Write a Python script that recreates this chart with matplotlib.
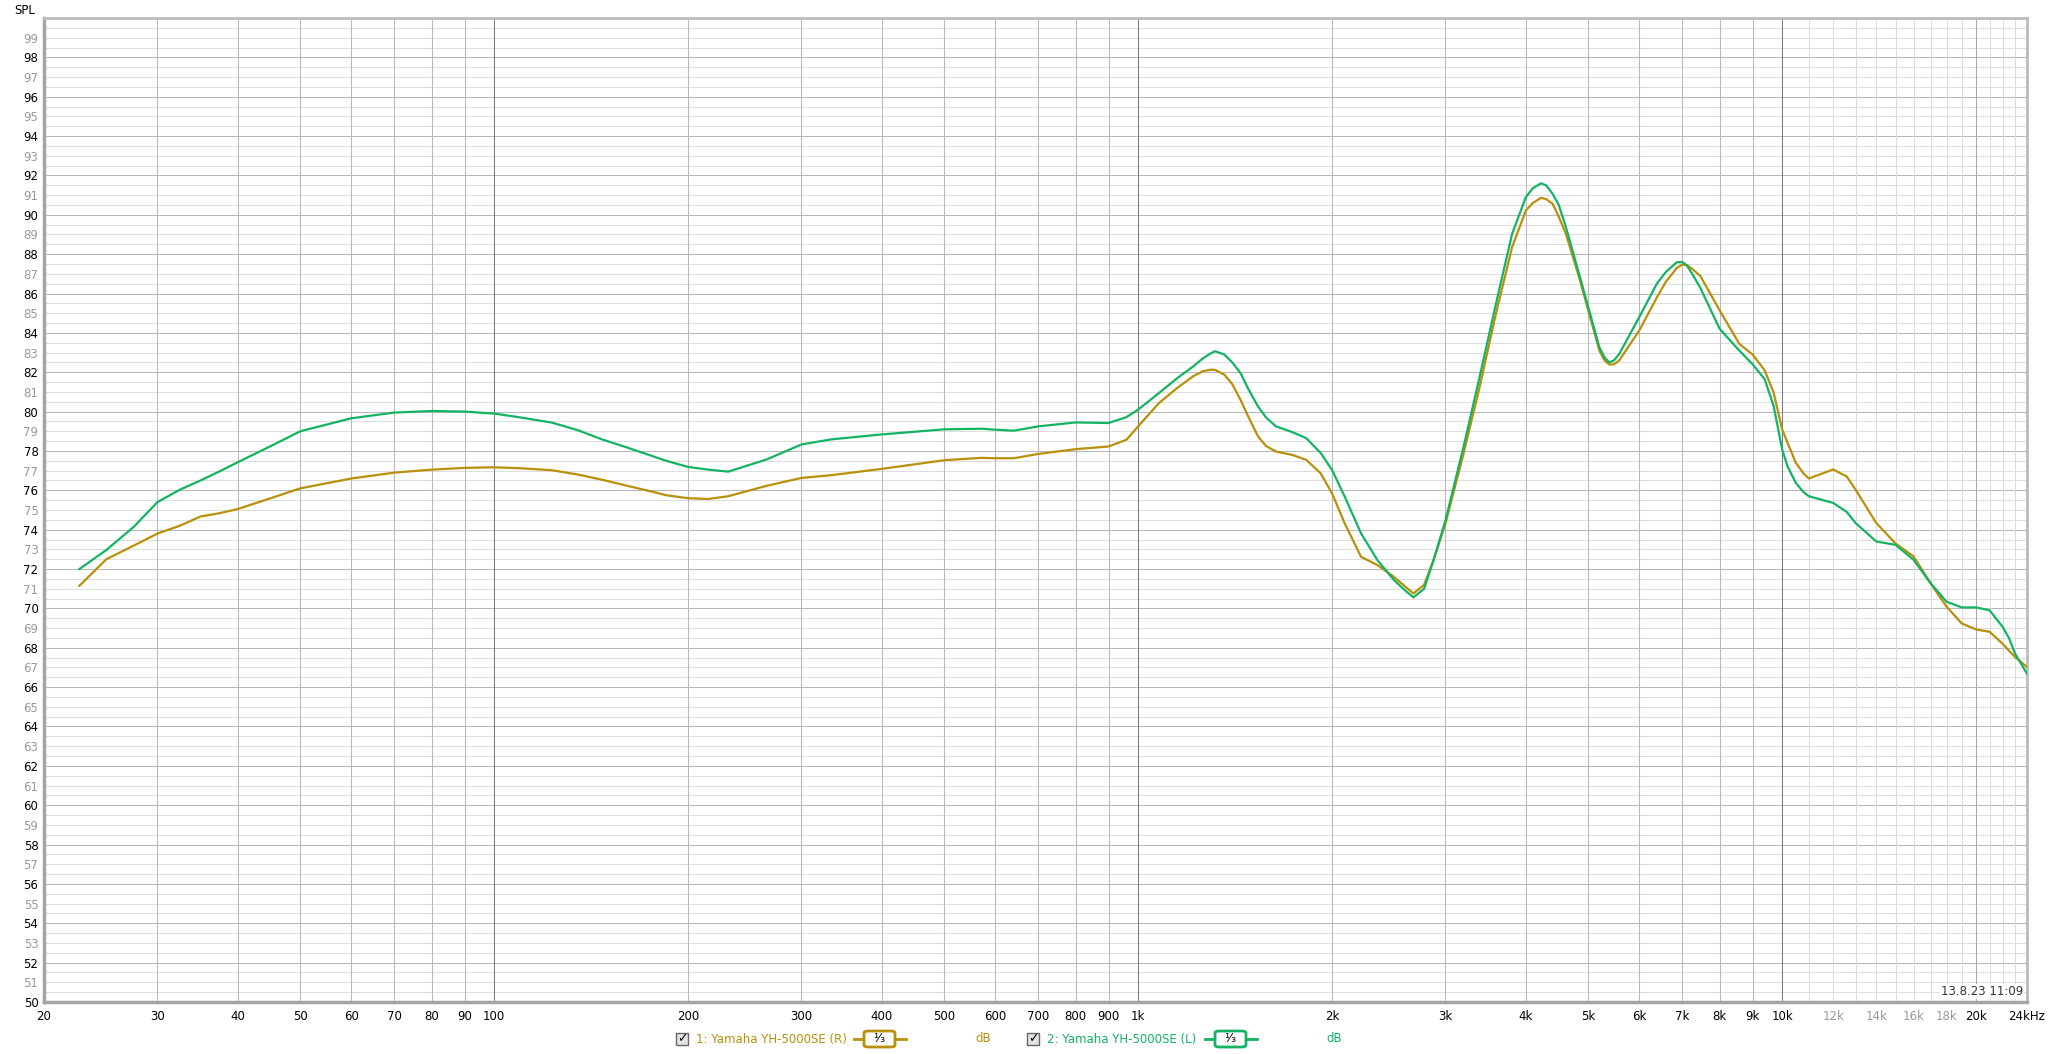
import matplotlib
matplotlib.use("Agg")
import matplotlib.pyplot as plt
import matplotlib.ticker as mticker
from matplotlib.patches import Rectangle, FancyBboxPatch
from matplotlib.lines import Line2D

# ── data (Hz, dB SPL) ────────────────────────────────────────────────────────
freq = [22.7, 25, 27.6, 30, 32.5, 35, 37.5, 40, 45, 50, 60, 70, 80, 90, 100,
        110, 123, 135, 147, 160, 175, 185, 200, 215, 231, 265, 300, 334, 400,
        500, 571, 600, 641, 700, 800, 900, 959, 1000, 1077, 1150, 1218, 1260,
        1295, 1316, 1361, 1400, 1442, 1480, 1535, 1580, 1637, 1735, 1824, 1920,
        2000, 2093, 2219, 2353, 2496, 2600, 2676, 2780, 2873, 3000, 3200, 3390,
        3594, 3808, 4000, 4100, 4223, 4300, 4401, 4500, 4616, 4838, 5000, 5202,
        5300, 5390, 5480, 5586, 6000, 6389, 6600, 6863, 7000, 7113, 7250, 7460,
        8000, 8580, 9000, 9393, 9700, 10000, 10200, 10500, 10800, 11000, 12000,
        12600, 13000, 14000, 15000, 16000, 17000, 18000, 19000, 20000, 21000,
        22000, 22500, 23000, 24000]

spl_right = [71.15, 72.5, 73.2, 73.8, 74.2, 74.67, 74.84, 75.05, 75.6, 76.1,
             76.6, 76.9, 77.05, 77.14, 77.17, 77.12, 77.02, 76.8, 76.54, 76.25,
             75.95, 75.75, 75.6, 75.56, 75.7, 76.23, 76.63, 76.77, 77.09, 77.53,
             77.65, 77.63, 77.63, 77.85, 78.09, 78.23, 78.57, 79.25, 80.43, 81.2,
             81.8, 82.05, 82.13, 82.12, 81.88, 81.4, 80.6, 79.8, 78.74, 78.25,
             77.97, 77.8, 77.55, 76.87, 75.85, 74.32, 72.62, 72.2, 71.6, 71.1,
             70.76, 71.2, 72.42, 74.3, 77.85, 81.24, 84.97, 88.36, 90.22, 90.6,
             90.86, 90.8, 90.56, 89.9, 89.03, 86.83, 85.14, 83.1, 82.6, 82.39,
             82.4, 82.6, 84.12, 85.8, 86.6, 87.3, 87.47, 87.45, 87.25, 86.9,
             85.14, 83.44, 82.9, 82.1, 80.97, 79.1, 78.4, 77.4, 76.85, 76.6,
             77.06, 76.7, 76.04, 74.34, 73.3, 72.64, 71.28, 70.09, 69.24, 68.93,
             68.81, 68.2, 67.85, 67.53, 67.02]

spl_left = [72.0, 72.97, 74.16, 75.4, 76.03, 76.5, 76.97, 77.43, 78.25, 79.0,
            79.66, 79.95, 80.03, 80.0, 79.9, 79.7, 79.44, 79.05, 78.59, 78.2,
            77.77, 77.5, 77.19, 77.05, 76.95, 77.57, 78.33, 78.59, 78.84, 79.1,
            79.13, 79.08, 79.03, 79.25, 79.45, 79.42, 79.72, 80.1, 80.94, 81.7,
            82.3, 82.7, 82.95, 83.07, 82.9, 82.5, 81.96, 81.2, 80.26, 79.7,
            79.25, 78.96, 78.65, 77.9, 77.04, 75.68, 73.81, 72.45, 71.44, 70.9,
            70.56, 71.0, 72.42, 74.46, 78.19, 81.75, 85.47, 89.03, 90.9, 91.35,
            91.6, 91.5, 91.07, 90.5, 89.37, 87.0, 85.3, 83.27, 82.75, 82.5,
            82.6, 82.93, 84.8, 86.5, 87.1, 87.59, 87.6, 87.42, 87.0, 86.3,
            84.2, 83.1, 82.4, 81.65, 80.29, 78.08, 77.2, 76.38, 75.9, 75.7,
            75.36, 74.9, 74.34, 73.4, 73.23, 72.47, 71.28, 70.34, 70.05, 70.05,
            69.9, 69.06, 68.5, 67.7, 66.68]

series_names = ["1: Yamaha YH-5000SE (R)", "2: Yamaha YH-5000SE (L)"]
series_colors = ["#B8900A", "#12B464"]

x_ticks = [20, 30, 40, 50, 60, 70, 80, 90, 100, 200, 300, 400, 500, 600, 700,
           800, 900, 1000, 2000, 3000, 4000, 5000, 6000, 7000, 8000, 9000,
           10000, 12000, 14000, 16000, 18000, 20000, 24000]
x_labels = ["20", "30", "40", "50", "60", "70", "80", "90", "100", "200", "300",
            "400", "500", "600", "700", "800", "900", "1k", "2k", "3k", "4k",
            "5k", "6k", "7k", "8k", "9k", "10k", "12k", "14k", "16k", "18k",
            "20k", "24kHz"]
grey_x_labels = {"12k", "14k", "16k", "18k"}

W, H = 2048, 1054
fig = plt.figure(figsize=(W / 100, H / 100), dpi=100, facecolor="white")
L, R, T, B = 44, 2027, 18, 1002
ax = fig.add_axes([L / W, 1 - B / H, (R - L) / W, (B - T) / H])

ax.set_xscale("log")
ax.set_xlim(20, 24000)
ax.set_ylim(50, 100)

GRID_LW = 0.75
# horizontal grid every 0.5 dB, even dB darker
for k in range(101, 200):
    c = "#B8B8B8" if k % 4 == 0 else "#DEDEDE"
    ax.axhline(k / 2, color=c, lw=GRID_LW, zorder=0)

# vertical grid
for f in list(range(11000, 20000, 1000)) + [21000, 22000, 23000]:
    ax.axvline(f, color="#DCDCDC", lw=GRID_LW, zorder=0)
for dec in (10, 100, 1000):
    for m in range(2, 10):
        if dec * m >= 20:
            ax.axvline(dec * m, color="#B8B8B8", lw=GRID_LW, zorder=0)
ax.axvline(20000, color="#A8A8A8", lw=GRID_LW, zorder=0)
for f in (100, 1000, 10000):
    ax.axvline(f, color="#7A7A7A", lw=GRID_LW, zorder=0.5)

for spl, c in zip([spl_right, spl_left], series_colors):
    ax.plot(freq, spl, color=c, lw=1.6, solid_joinstyle="round", zorder=3)

# ticks
ax.set_xticks(x_ticks)
ax.set_xticklabels(x_labels)
ax.xaxis.set_minor_locator(mticker.NullLocator())
ax.tick_params(axis="x", length=0, pad=6, labelsize=8.5)
for lbl in ax.get_xticklabels():
    lbl.set_color("#999999" if lbl.get_text() in grey_x_labels else "black")

y_ticks = list(range(50, 100))
ax.set_yticks(y_ticks)
ax.set_yticklabels([str(v) for v in y_ticks])
ax.yaxis.set_minor_locator(mticker.NullLocator())
ax.tick_params(axis="y", length=0, pad=4, labelsize=8.5)
for lbl, v in zip(ax.get_yticklabels(), y_ticks):
    lbl.set_color("black" if v % 2 == 0 else "#999999")

# sunken frame
for side in ("left", "bottom"):
    ax.spines[side].set_color("#A4A4A4")
    ax.spines[side].set_linewidth(2.5)
for side in ("top", "right"):
    ax.spines[side].set_color("#BBBBBB")
    ax.spines[side].set_linewidth(2)

ax.text(0.998, 0.004, "13.8.23 11:09", transform=ax.transAxes, ha="right",
        va="bottom", fontsize=8.5, color="#333333", zorder=5,
        bbox=dict(facecolor="white", edgecolor="none", pad=1))

fig.text(14 / W, 1 - 10 / H, "SPL", fontsize=8.5, va="center", ha="left")


# ── legend row under the chart ───────────────────────────────────────────────
def px(x, y):
    return x / W, 1 - y / H


ly = 1039
for x0, name, c in zip([682, 1033], series_names, series_colors):
    bx, by = px(x0 - 6, ly + 6)
    fig.patches.append(Rectangle((bx, by), 12 / W, 12 / H, transform=fig.transFigure,
                                 facecolor="#E4E4E4", edgecolor="#666666", lw=1))
    fig.text(*px(x0, ly), "✓", fontsize=9, ha="center", va="center",
             color="black", fontweight="bold")
    fig.text(*px(x0 + 14, ly), name, fontsize=8.5, ha="left", va="center", color=c)
    tx = x0 + 14 + 156
    x1, y1 = px(tx + 2, ly)
    x2, _ = px(tx + 54, ly)
    fig.lines.append(Line2D([x1, x2], [y1, y1], transform=fig.transFigure,
                            color=c, lw=2))
    rx, ry = px(tx + 12, ly + 8)
    fig.patches.append(FancyBboxPatch((rx, ry), 31 / W, 16 / H,
                                      boxstyle="round,pad=0,rounding_size=0.002",
                                      transform=fig.transFigure, facecolor="white",
                                      edgecolor=c, lw=2, zorder=3))
    fig.text(*px(tx + 27.5, ly), "¹⁄₃", fontsize=9, ha="center", va="center",
             color="black", zorder=4)
    fig.text(*px(x0 + 301, ly), "dB", fontsize=8.5, ha="center", va="center", color=c)

fig.savefig("out.png", dpi=100, facecolor="white")
